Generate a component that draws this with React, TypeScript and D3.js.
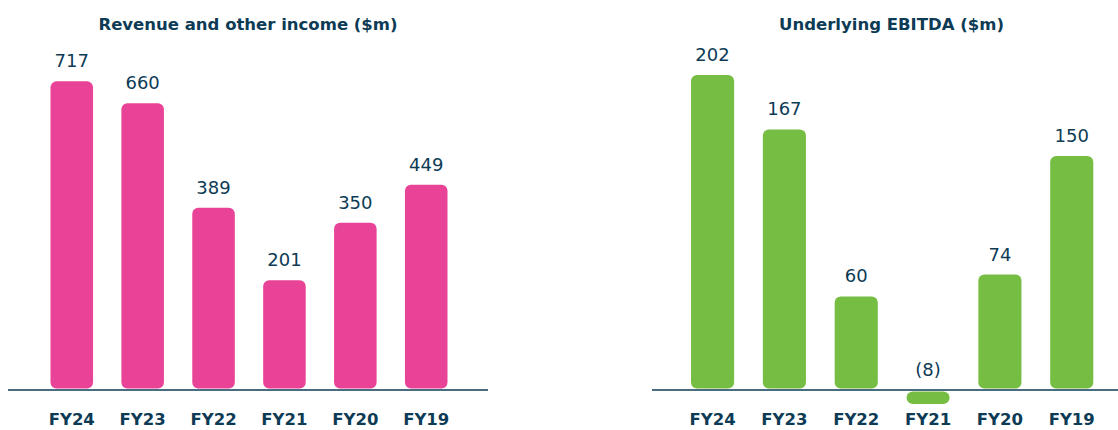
import React, { useRef, useEffect } from 'react';
import * as d3 from 'd3';

const years = ['FY24', 'FY23', 'FY22', 'FY21', 'FY20', 'FY19'];
const revenue = [717, 660, 389, 201, 350, 449];
const ebitda = [202, 167, 60, -8, 74, 150];

const navy = '#0d3b55';
const pink = '#e94397';
const green = '#76be43';
const font = '"DejaVu Sans", sans-serif';

function fmt(v: number) {
    return v < 0 ? '(' + Math.abs(v) + ')' : String(v);
}

function App() {
    const ref = useRef<SVGSVGElement>(null);

    useEffect(() => {
        drawCharts();
    }, []);

    function drawPanel(svg: any, opts: any) {
        const { title, titleX, values, color, xRange, yDomain, yRange, lineX } = opts;
        const base = 390;

        const x = d3.scaleBand()
            .domain(years)
            .range(xRange)
            .paddingInner(0.4)
            .paddingOuter(0);

        const y = d3.scaleLinear()
            .domain(yDomain)
            .range(yRange);

        const g = svg.append('g');

        g.append('text')
            .attr('x', titleX)
            .attr('y', 30)
            .attr('text-anchor', 'middle')
            .attr('font-family', font)
            .attr('font-weight', 'bold')
            .attr('font-size', 16.5)
            .attr('fill', navy)
            .text(title);

        const data = years.map((d, i) => ({ year: d, value: values[i] }));

        g.selectAll('rect.bar')
            .data(data)
            .enter()
            .append('rect')
            .attr('class', 'bar')
            .attr('x', (d: any) => x(d.year))
            .attr('width', x.bandwidth())
            .attr('y', (d: any) => d.value >= 0 ? y(d.value) : base + 1.5)
            .attr('height', (d: any) => d.value >= 0 ? base - 1.5 - y(d.value) : y(d.value) - y(0))
            .attr('rx', (d: any) => d.value >= 0 ? 6 : 6.5)
            .attr('fill', color);

        g.selectAll('text.val')
            .data(data)
            .enter()
            .append('text')
            .attr('class', 'val')
            .attr('x', (d: any) => x(d.year) + x.bandwidth() / 2)
            .attr('y', (d: any) => (d.value >= 0 ? y(d.value) : base) - 14)
            .attr('text-anchor', 'middle')
            .attr('font-family', font)
            .attr('font-size', 18)
            .attr('fill', navy)
            .text((d: any) => fmt(d.value));

        g.append('line')
            .attr('x1', lineX[0])
            .attr('x2', lineX[1])
            .attr('y1', base)
            .attr('y2', base)
            .attr('stroke', navy)
            .attr('stroke-width', 1.5);

        g.selectAll('text.cat')
            .data(years)
            .enter()
            .append('text')
            .attr('class', 'cat')
            .attr('x', (d: string) => x(d) + x.bandwidth() / 2)
            .attr('y', 425)
            .attr('text-anchor', 'middle')
            .attr('font-family', font)
            .attr('font-weight', 'bold')
            .attr('font-size', 16.5)
            .attr('fill', navy)
            .text((d: string) => d);
    }

    function drawCharts() {
        const svg = d3.select(ref.current);
        svg.selectAll('*').remove();

        // revenue axis doesn't start at zero in the original artwork
        drawPanel(svg, {
            title: 'Revenue and other income ($m)',
            titleX: 248,
            values: revenue,
            color: pink,
            xRange: [50.5, 447.5],
            yDomain: [-84, 717],
            yRange: [390, 390 - 0.3853 * 801],
            lineX: [8, 488],
        });

        drawPanel(svg, {
            title: 'Underlying EBITDA ($m)',
            titleX: 891.5,
            values: ebitda,
            color: green,
            xRange: [691, 1093.3],
            yDomain: [0, 200],
            yRange: [390, 390 - 1.56 * 200],
            lineX: [652, 1118],
        });
    }

    return (
        <svg
            ref={ref}
            width={1118}
            height={430}
            style={{ position: 'absolute', left: 0, top: 0, background: '#fff' }}
        />
    );
}

export default App;
